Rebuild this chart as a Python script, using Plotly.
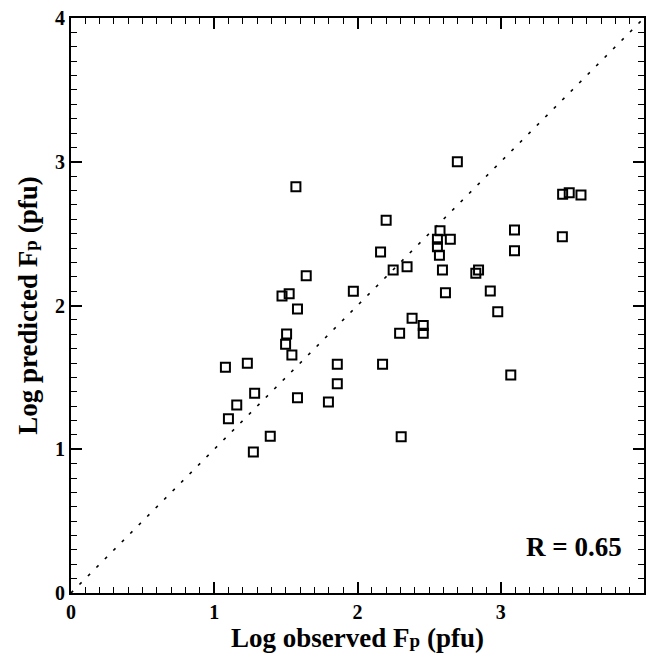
import plotly.graph_objects as go

obs_x = [1.078, 1.099, 1.157, 1.231, 1.282, 1.273, 1.391, 1.473, 1.523, 1.505,
         1.498, 1.542, 1.570, 1.581, 1.581, 1.642, 1.797, 1.859, 1.859, 1.971,
         2.161, 2.175, 2.200, 2.249, 2.294, 2.305, 2.346, 2.381, 2.459, 2.459,
         2.576, 2.558, 2.558, 2.572, 2.648, 2.593, 2.614, 2.697, 2.826, 2.845,
         2.927, 2.979, 3.070, 3.096, 3.096, 3.430, 3.432, 3.478, 3.560]
pred_y = [1.570, 1.213, 1.308, 1.598, 1.389, 0.981, 1.090, 2.066, 2.082, 1.802,
          1.730, 1.656, 2.826, 1.976, 1.359, 2.207, 1.329, 1.456, 1.591, 2.099,
          2.372, 1.591, 2.593, 2.247, 1.807, 1.087, 2.270, 1.911, 1.861, 1.807,
          2.520, 2.461, 2.409, 2.349, 2.461, 2.247, 2.089, 3.000, 2.224, 2.247,
          2.101, 1.957, 1.517, 2.525, 2.381, 2.479, 2.774, 2.785, 2.769]
diag = [0, 4]
tick_vals = [0, 1, 2, 3, 4]
tick_text = ["0", "1", "2", "3", "4"]
r_label = "R = 0.65"

FONT = "Liberation Serif"

fig = go.Figure()
fig.add_trace(go.Scatter(x=diag, y=diag, mode="lines",
                         line=dict(color="black", width=1.6, dash="3px,9px"),
                         hoverinfo="skip", showlegend=False))
fig.add_trace(go.Scatter(x=obs_x, y=pred_y, mode="markers",
                         marker=dict(symbol="square-open", size=9, color="black",
                                     line=dict(width=2, color="black")),
                         showlegend=False))

axis_common = dict(
    range=[0, 4], tickvals=tick_vals, ticktext=["<b>" + t + "</b>" for t in tick_text],
    ticks="inside", ticklen=11, tickwidth=1.6, tickcolor="black",
    showline=True, linewidth=2, linecolor="black", mirror="ticks",
    showgrid=False, zeroline=False,
    tickfont=dict(family=FONT, size=20, color="black", weight="bold"),
    minor=dict(dtick=0.1, ticks="inside", ticklen=6, tickwidth=1.4,
               tickcolor="black", showgrid=False),
)

fig.update_layout(
    width=647, height=655,
    margin=dict(l=71, r=1, t=18, b=62),
    paper_bgcolor="white", plot_bgcolor="white",
    font=dict(family=FONT, color="black"),
    xaxis=dict(**axis_common,
               title=dict(text='<b>Log observed F<span style="font-size:19px">p</span> (pfu)</b>',
                          font=dict(family=FONT, size=27, color="black"), standoff=2)),
    yaxis=dict(**axis_common,
               title=dict(text='<b>Log predicted F<span style="font-size:19px">p</span> (pfu)</b>',
                          font=dict(family=FONT, size=27, color="black"), standoff=10)),
    annotations=[dict(x=0.965, y=0.08, xref="paper", yref="paper",
                      xanchor="right", yanchor="middle", showarrow=False,
                      text="<b>" + r_label + "</b>",
                      font=dict(family=FONT, size=27, color="black"))],
)

fig.write_html("out.html")
